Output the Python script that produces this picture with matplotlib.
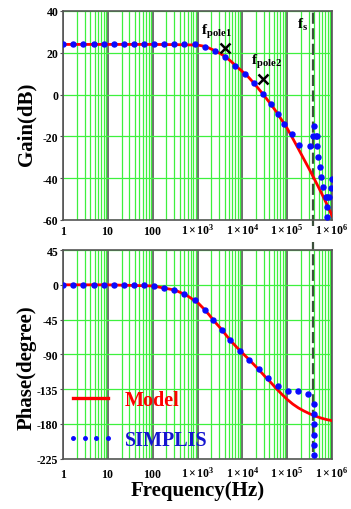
import matplotlib
matplotlib.use('Agg')
import matplotlib.pyplot as plt
from matplotlib.ticker import LogLocator, NullFormatter

plt.rcParams['font.family'] = ['Liberation Serif', 'DejaVu Serif']
plt.rcParams['mathtext.fontset'] = 'custom'
plt.rcParams['mathtext.rm'] = 'Liberation Serif'
plt.rcParams['mathtext.bf'] = 'Liberation Serif:bold'
plt.rcParams['mathtext.it'] = 'Liberation Serif:italic'

# ---- data ----
model_freq = [1, 10, 100, 316, 562, 1000, 1330, 1780, 2370, 3160, 4220, 5620, 7500,
              10000, 13300, 17800, 23700, 31600, 42200, 56200, 75000, 100000, 133000,
              178000, 237000, 316000, 422000, 562000, 750000, 1000000]
model_gain = [24, 24, 24, 23.9, 23.8, 23.7, 23.2, 22.3, 21.1, 19.7, 18.0, 15.8, 13.3,
              11.0, 8.6, 5.6, 2.4, -0.9, -4.4, -8.0, -12.1, -16.2, -21.0,
              -26.0, -31.0, -36.0, -41.2, -46.5, -52.0, -58.0]
model_phase = [0, -0.1, -1.5, -7, -13.5, -23, -30.3, -38.5, -47.5, -55.5, -64.5, -73.3, -81,
               -88.4, -95.5, -103, -110.5, -118.5, -126, -134, -141.5, -148.5, -154.5,
               -159.5, -163.5, -167, -170, -172.5, -174.5, -176]

simplis_gain_freq = [1, 1.68, 2.82, 4.79, 7.94, 13.5, 22.4, 37.2, 63.1, 105, 178, 302, 501, 851,
                     1460, 2440, 4160, 6950, 11600, 18200, 28400, 42800, 62400, 86100, 126000,
                     186000, 318000, 383000, 403000, 428000, 456000, 463000, 495000, 540000,
                     578000, 640000, 724000, 786000, 871000, 786000, 786000, 950000, 1000000]
simplis_gain = [24.0, 24.0, 24.0, 24.0, 24.0, 24.0, 24.0, 24.0, 24.0, 24.0, 24.0, 24.0, 24.0, 24.0,
                22.9, 21.0, 18.1, 13.8, 9.9, 5.4, 0.3, -4.5, -9.4, -14.1, -18.9,
                -24.0, -24.7, -20.0, -14.9, -20.0, -20.0, -24.7, -30.0, -34.8,
                -39.6, -44.4, -49.0, -49.0, -49.0, -53.9, -58.7, -44.7, -40.4]

simplis_phase_freq = [1, 1.68, 2.82, 4.79, 7.94, 13.5, 22.4, 37.2, 63.1, 105, 178, 302, 501, 851,
                      1460, 2200, 3560, 5200, 8830, 14300, 23900, 36700, 61400, 103000, 172000,
                      292000, 403000, 403000, 403000, 403000, 403000, 403000]
simplis_phase = [0, 0, 0, 0, 0, 0, 0, 0, -0.4, -1.7, -3.9, -6.9, -12.4, -19.7,
                 -33, -45.9, -58.7, -72, -85.3, -97.3, -109.3, -120.4, -130.7, -137.1, -137.6,
                 -141, -154.4, -167.4, -180.3, -194.2, -207.1, -220.1]

f_sw = 383000
pole_freq = [4150, 28800]
pole_gain = [22.3, 7.3]

x_ticks = [1, 10, 100, 1e3, 1e4, 1e5, 1e6]
x_labels = [r'$\mathbf{1}$', r'$\mathbf{10}$', r'$\mathbf{100}$', r'$\mathbf{1\times10^{3}}$',
            r'$\mathbf{1\times10^{4}}$', r'$\mathbf{1\times10^{5}}$', r'$\mathbf{1\times10^{6}}$']
gain_ticks = [40, 20, 0, -20, -40, -60]
phase_ticks = [45, 0, -45, -90, -135, -180, -225]

RED = '#ff0000'
BLUE = '#0a0aff'
GREEN = '#3ef03e'
GRAY = '#555555'

fig = plt.figure(figsize=(3.51, 5.10), dpi=100)
ax1 = fig.add_axes([0.1803, 0.5667, 0.7656, 0.4098])
ax2 = fig.add_axes([0.1803, 0.0990, 0.7656, 0.4088])


def style(ax, yticks, xpad):
    ax.set_xscale('log')
    ax.set_xlim(1, 1e6)
    ax.set_ylim(yticks[-1], yticks[0])
    ax.set_xticks(x_ticks)
    ax.set_xticklabels(x_labels, fontsize=8.5)
    for lab in ax.get_xticklabels():
        lab.set_verticalalignment('baseline')   # keep 1, 10, 100 on the same line as 1x10^n
    ax.xaxis.set_minor_locator(LogLocator(base=10, subs=range(2, 10), numticks=20))
    ax.xaxis.set_minor_formatter(NullFormatter())
    ax.set_yticks(yticks)
    ax.set_yticklabels([str(t) for t in yticks], fontsize=8.5, fontweight='bold')
    ax.tick_params(axis='x', which='both', length=0, pad=xpad)
    ax.tick_params(axis='y', length=2, pad=1.5, color=GRAY)
    ax.set_axisbelow(True)
    ax.grid(which='minor', axis='x', color=GREEN, lw=0.9)
    ax.grid(which='major', axis='x', color=GRAY, lw=1.2)
    ax.grid(which='major', axis='y', color=GREEN, lw=0.9)
    for s in ax.spines.values():
        s.set_color(GRAY)
        s.set_linewidth(1.2)


style(ax1, gain_ticks, 10)
style(ax2, phase_ticks, 13.3)

# gain
ax1.plot(model_freq, model_gain, color=RED, lw=2.0, zorder=3)
ax1.plot(simplis_gain_freq, simplis_gain, 'o', color=BLUE, ms=3.6, zorder=4)
ax1.plot(pole_freq, pole_gain, 'x', color='black', ms=7, mew=1.8, zorder=5)
ax1.axvline(f_sw, ymin=-0.03, ymax=1, color='#3c503c', lw=1.6, ls=(0, (5, 2)),
            clip_on=False, zorder=2)
ax1.text(1190, 29, r'$\mathbf{f}_{\mathbf{pole1}}$', fontsize=11, ha='left', va='baseline')
ax1.text(15500, 14.6, r'$\mathbf{f}_{\mathbf{pole2}}$', fontsize=11, ha='left', va='baseline')
ax1.text(163000, 31.7, r'$\mathbf{f}_{\mathbf{s}}$', fontsize=11, ha='left', va='baseline')
ax1.set_ylabel('Gain(dB)', fontsize=15, fontweight='bold')
ax1.yaxis.set_label_coords(-0.10, 0.464)

# phase
m_line, = ax2.plot(model_freq, model_phase, color=RED, lw=2.0, zorder=3, label='Model')
s_pts, = ax2.plot(simplis_phase_freq, simplis_phase, 'o', color=BLUE, ms=3.6, zorder=4,
                  label='SIMPLIS')
ax2.axvline(f_sw, ymin=0.03, ymax=1.04, color='#3c503c', lw=1.6, ls=(0, (5, 2)),
            clip_on=False, zorder=2)
ax2.set_ylabel('Phase(degree)', fontsize=15, fontweight='bold')
ax2.yaxis.set_label_coords(-0.10, 0.439)
ax2.set_xlabel('Frequency(Hz)', fontsize=15, fontweight='bold')
ax2.xaxis.set_label_coords(0.5, -0.105)
ax2.xaxis.label.set_verticalalignment('top')

leg = ax2.legend(handles=[m_line, s_pts], loc='upper left', bbox_to_anchor=(0.015, 0.33),
                 frameon=False, borderpad=0, borderaxespad=0, handlelength=2.3,
                 handletextpad=0.55, labelspacing=1.0, numpoints=4, markerscale=0.7,
                 prop={'size': 14.5, 'weight': 'bold'})
for t, c in zip(leg.get_texts(), [RED, '#1515d0']):
    t.set_color(c)
leg.get_lines()[0].set_linewidth(2.4)

fig.savefig('out.png', dpi=100)
